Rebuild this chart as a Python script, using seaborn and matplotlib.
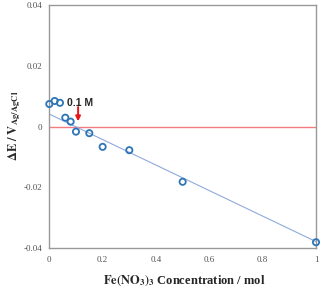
import matplotlib
matplotlib.use("Agg")
import matplotlib.pyplot as plt
import seaborn as sns
import pandas as pd

# data
conc = [0.0, 0.02, 0.04, 0.06, 0.08, 0.10, 0.15, 0.20, 0.30, 0.50, 1.00]
dE = [0.0074, 0.0084, 0.0078, 0.0029, 0.0016, -0.0017, -0.0022, -0.0067, -0.0078, -0.0182, -0.0381]
fit_x = [0.0, 1.0]
fit_y = [0.0041, -0.0379]
xticks = [0, 0.2, 0.4, 0.6, 0.8, 1]
xtick_labels = ["0", "0.2", "0.4", "0.6", "0.8", "1"]
yticks = [-0.04, -0.02, 0, 0.02, 0.04]
ytick_labels = ["-0.04", "-0.02", "0", "0.02", "0.04"]
annot_text = "0.1 M"
annot_x = 0.108

sns.set_style("white")
plt.rcParams["font.family"] = ["Liberation Serif", "DejaVu Serif"]
plt.rcParams["mathtext.fontset"] = "stix"

fig = plt.figure(figsize=(3.2, 2.89), dpi=100)
ax = fig.add_axes([49.3 / 320, 1 - 248 / 289, (316 - 49.3) / 320, (248 - 5) / 289])

df = pd.DataFrame({"x": conc, "y": dE})
fit = pd.DataFrame({"x": fit_x, "y": fit_y})

ax.axhline(0, color="#F47C80", lw=1.0, zorder=1)
sns.lineplot(data=fit, x="x", y="y", ax=ax, color="#8FAADC", lw=0.8, zorder=2)
sns.scatterplot(data=df, x="x", y="y", ax=ax, marker="o", s=20,
                facecolor="none", edgecolor="#2E75B6", linewidth=1.3, zorder=3,
                clip_on=False)

ax.annotate("", xy=(annot_x, 0.0017), xytext=(annot_x, 0.0064),
            arrowprops=dict(arrowstyle="-|>", color="#E8141B", lw=1.4,
                            mutation_scale=7, shrinkA=0, shrinkB=0), zorder=4)
ax.text(0.066, 0.0076, annot_text, fontsize=7.5, fontweight="bold",
        family=["Liberation Sans", "DejaVu Sans"], va="center", ha="left", zorder=5)

ax.set_xlim(0, 1)
ax.set_ylim(-0.04, 0.04)
ax.set_xticks(xticks)
ax.set_xticklabels(xtick_labels)
ax.set_xticks([0.1, 0.3, 0.5, 0.7, 0.9], minor=True)
ax.set_yticks(yticks)
ax.set_yticklabels(ytick_labels)
ax.tick_params(axis="both", which="both", direction="in", length=2.5, width=0.8,
               color="#888888", labelsize=6.5, labelcolor="#555555")
ax.tick_params(axis="x", pad=6)
ax.tick_params(axis="y", pad=5)
ax.set_xlabel("")
ax.set_ylabel("")
for s in ax.spines.values():
    s.set_color("#999999")
    s.set_linewidth(1.0)

fig.text(15 / 320, 1 - 126 / 289, r"$\mathbf{\Delta E\ /\ V_{Ag/AgCl}}$",
         rotation=90, fontsize=9, ha="center", va="center")
fig.text(184 / 320, 1 - 281 / 289, r"$\mathbf{Fe(NO_3)_3}$ " + "Concentration / mol",
         fontsize=9, fontweight="bold", ha="center", va="center")

fig.savefig("out.png", dpi=100)
